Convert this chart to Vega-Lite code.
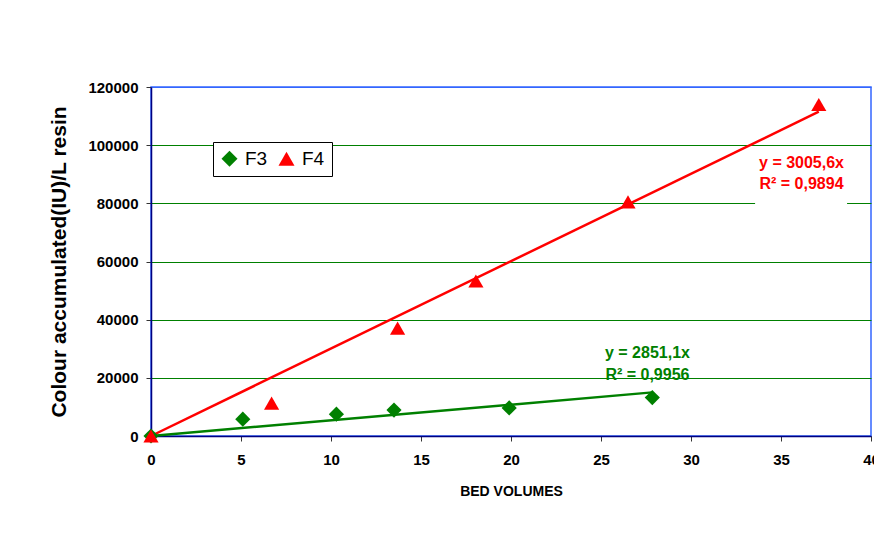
{
  "$schema": "https://vega.github.io/schema/vega-lite/v6.json",
  "width": 720,
  "height": 349,
  "autosize": {"type": "none"},
  "padding": {"left": 151, "top": 87, "right": 3, "bottom": 111},
  "background": "white",
  "datasets": {
    "points": [
      {"series": "F3", "x": 0, "y": 0},
      {"series": "F3", "x": 5.1, "y": 5800},
      {"series": "F3", "x": 10.3, "y": 7500},
      {"series": "F3", "x": 13.5, "y": 8900},
      {"series": "F3", "x": 19.9, "y": 9650},
      {"series": "F3", "x": 27.85, "y": 13200},
      {"series": "F4", "x": 0, "y": 0},
      {"series": "F4", "x": 6.7, "y": 11300},
      {"series": "F4", "x": 13.7, "y": 37100},
      {"series": "F4", "x": 18.05, "y": 53300},
      {"series": "F4", "x": 26.5, "y": 80500},
      {"series": "F4", "x": 37.1, "y": 114000}
    ],
    "trend": [
      {"series": "F3", "x": 0, "y": 0},
      {"series": "F3", "x": 27.85, "y": 15000},
      {"series": "F4", "x": 0, "y": 0},
      {"series": "F4", "x": 37.1, "y": 111500}
    ],
    "labels": [
      {"series": "F4", "x": 36.14, "y": 92050, "text": "y = 3005,6x"},
      {"series": "F4", "x": 36.14, "y": 84930, "text": "R² = 0,9894"},
      {"series": "F3", "x": 27.58, "y": 26720, "text": "y = 2851,1x"},
      {"series": "F3", "x": 27.58, "y": 19260, "text": "R² = 0,9956"}
    ],
    "box": [
      {"x": 33.56, "x2": 38.67, "y": 79000, "y2": 98000}
    ]
  },
  "config": {
    "font": "Liberation Sans",
    "view": {"stroke": "#3366FF", "strokeWidth": 1.5},
    "axis": {
      "labelFont": "Liberation Sans",
      "titleFont": "Liberation Sans",
      "labelColor": "black",
      "titleColor": "black",
      "labelFontWeight": "bold",
      "titleFontWeight": "bold",
      "domainColor": "#000080",
      "domainWidth": 1.5,
      "tickColor": "#333333",
      "tickSize": 5,
      "labelOverlap": false,
      "labelFlush": false
    },
    "legend": {
      "orient": "none",
      "legendX": 62,
      "legendY": 55,
      "direction": "horizontal",
      "strokeColor": "black",
      "fillColor": "white",
      "padding": 7,
      "labelFont": "Liberation Sans",
      "labelFontSize": 19,
      "labelColor": "black",
      "symbolSize": 256,
      "labelOffset": 6,
      "columnPadding": 9
    }
  },
  "encoding": {
    "x": {
      "field": "x",
      "type": "quantitative",
      "scale": {"domain": [0, 40], "nice": false},
      "axis": {
        "title": "BED VOLUMES",
        "values": [0, 5, 10, 15, 20, 25, 30, 35, 40],
        "grid": false,
        "labelFontSize": 15,
        "labelPadding": 11,
        "titleFontSize": 14,
        "titlePadding": 17
      }
    },
    "y": {
      "field": "y",
      "type": "quantitative",
      "scale": {"domain": [0, 120000], "nice": false},
      "axis": {
        "title": "Colour accumulated(IU)/L resin",
        "values": [0, 20000, 40000, 60000, 80000, 100000, 120000],
        "format": "d",
        "grid": true,
        "gridColor": {"condition": {"test": "datum.value == 120000", "value": "#3366FF"}, "value": "#008000"},
        "gridWidth": 1,
        "labelFontSize": 15,
        "labelPadding": 8,
        "titleFontSize": 21,
        "titlePadding": 18
      }
    }
  },
  "layer": [
    {
      "data": {"name": "box"},
      "mark": {"type": "rect", "fill": "white"},
      "encoding": {
        "x2": {"field": "x2"},
        "y2": {"field": "y2"}
      }
    },
    {
      "data": {"name": "trend"},
      "transform": [{"filter": "datum.series == 'F3'"}],
      "mark": {"type": "line", "color": "#008000", "strokeWidth": 2.5},
      "encoding": {}
    },
    {
      "data": {"name": "trend"},
      "transform": [{"filter": "datum.series == 'F4'"}],
      "mark": {"type": "line", "color": "#FF0000", "strokeWidth": 2.5},
      "encoding": {}
    },
    {
      "data": {"name": "points"},
      "mark": {"type": "point", "filled": true, "opacity": 1, "size": 230},
      "encoding": {
        "color": {
          "field": "series",
          "type": "nominal",
          "scale": {"domain": ["F3", "F4"], "range": ["#008000", "#FF0000"]},
          "legend": {"title": null}
        },
        "shape": {
          "field": "series",
          "type": "nominal",
          "scale": {"domain": ["F3", "F4"], "range": ["diamond", "triangle-up"]},
          "legend": {"title": null}
        }
      }
    },
    {
      "data": {"name": "labels"},
      "transform": [{"filter": "datum.series == 'F4'"}],
      "mark": {"type": "text", "color": "#FF0000", "fontWeight": "bold", "fontSize": 16, "align": "center", "baseline": "alphabetic", "font": "Liberation Sans"},
      "encoding": {"text": {"field": "text"}}
    },
    {
      "data": {"name": "labels"},
      "transform": [{"filter": "datum.series == 'F3'"}],
      "mark": {"type": "text", "color": "#008000", "fontWeight": "bold", "fontSize": 16, "align": "center", "baseline": "alphabetic", "font": "Liberation Sans"},
      "encoding": {"text": {"field": "text"}}
    }
  ]
}
